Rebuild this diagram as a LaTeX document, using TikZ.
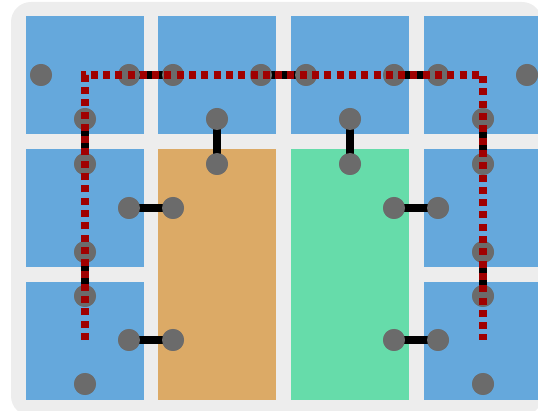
\documentclass[tikz,border=0pt]{standalone}
\begin{document}
\begin{tikzpicture}[x=1pt,y=-1pt,
  dot/.style={circle, fill=dotgray, inner sep=0pt, minimum size=22pt},
  link/.style={line width=7.5pt, black},
  route/.style={line width=7.5pt, draw=routered, dash pattern=on 7pt off 5.3pt}]
\definecolor{bggray}{HTML}{EDEDED}
\definecolor{tileblue}{HTML}{65A8DC}
\definecolor{tileorange}{HTML}{DCAA66}
\definecolor{tilegreen}{HTML}{66DCAA}
\definecolor{dotgray}{HTML}{6B6B6B}
\definecolor{routered}{HTML}{A00000}
\useasboundingbox (0,0) rectangle (538,411);
\clip (0,0) rectangle (538,411);
% background
\fill[bggray, rounded corners=20pt] (11,2) rectangle (542,416);
% tiles
\foreach \x in {26,424}{
  \foreach \y in {16,149,282}{
    \fill[tileblue] (\x,\y) rectangle ++(118,118);
  }
}
\fill[tileblue] (158,16) rectangle ++(118,118);
\fill[tileblue] (291,16) rectangle ++(118,118);
\fill[tileorange] (158,149) rectangle (276,400);
\fill[tilegreen] (291,149) rectangle (409,400);
% dots
\node[dot] (a1l) at (41,75) {};
\node[dot] (a1r) at (129,75) {};
\node[dot] (a1b) at (85,119) {};
\node[dot] (a2t) at (85,164) {};
\node[dot] (a2r) at (129,208) {};
\node[dot] (a2b) at (85,252) {};
\node[dot] (a3t) at (85,296) {};
\node[dot] (a3r) at (129,340) {};
\node[dot] (a3b) at (85,384) {};
\node[dot] (b1l) at (173,75) {};
\node[dot] (b1r) at (261,75) {};
\node[dot] (b1b) at (217,119) {};
\node[dot] (bot) at (217,164) {};
\node[dot] (bol) at (173,208) {};
\node[dot] (bol2) at (173,340) {};
\node[dot] (c1l) at (306,75) {};
\node[dot] (c1r) at (394,75) {};
\node[dot] (c1b) at (350,119) {};
\node[dot] (cgt) at (350,164) {};
\node[dot] (cgr) at (394,208) {};
\node[dot] (cgr2) at (394,340) {};
\node[dot] (d1l) at (438,75) {};
\node[dot] (d1r) at (527,75) {};
\node[dot] (d1b) at (483,119) {};
\node[dot] (d2t) at (483,164) {};
\node[dot] (d2l) at (438,208) {};
\node[dot] (d2b) at (483,252) {};
\node[dot] (d3t) at (483,296) {};
\node[dot] (d3l) at (438,340) {};
\node[dot] (d3b) at (483,384) {};
% links
\foreach \p/\q in {a1r/b1l, b1r/c1l, c1r/d1l, a1b/a2t, a2b/a3t, d1b/d2t, d2b/d3t,
                   b1b/bot, c1b/cgt, a2r/bol, a3r/bol2, cgr/d2l, cgr2/d3l}{
  \draw[link] (\p.center) -- (\q.center);
}
% redraw dots on top of links
\foreach \n in {a1l,a1r,a1b,a2t,a2r,a2b,a3t,a3r,a3b,b1l,b1r,b1b,bot,bol,bol2,
                c1l,c1r,c1b,cgt,cgr,cgr2,d1l,d1r,d1b,d2t,d2l,d2b,d3t,d3l,d3b}{
  \fill[dotgray] (\n.center) circle (11pt);
}
% route
\coordinate (rs) at (85,340);
\coordinate (rc1) at (85,75);
\coordinate (rc2) at (483,75);
\coordinate (re) at (483,340);
\draw[route] (rs) -- (rc1) -- (rc2) -- (re);
\end{tikzpicture}
\end{document}
